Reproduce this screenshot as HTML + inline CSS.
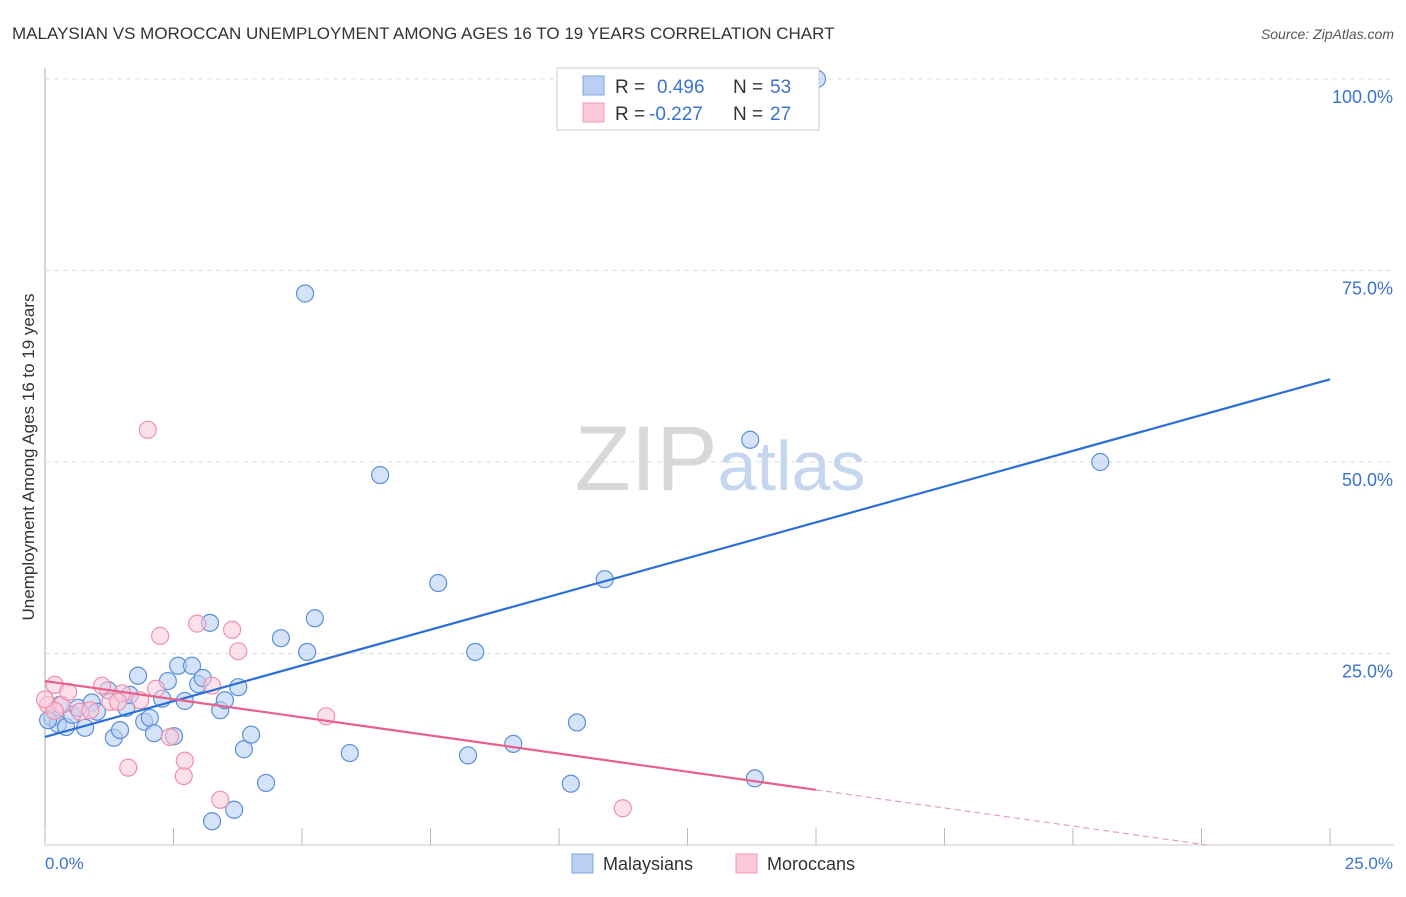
<!DOCTYPE html>
<html><head><meta charset="utf-8"><style>
body{margin:0;background:#fff;font-family:"Liberation Sans",sans-serif;}
svg text{font-family:"Liberation Sans",sans-serif;}
</style></head><body>
<svg id="chart" width="1406" height="892" xmlns="http://www.w3.org/2000/svg">
<text x="12" y="39" font-size="17" fill="#333">MALAYSIAN VS MOROCCAN UNEMPLOYMENT AMONG AGES 16 TO 19 YEARS CORRELATION CHART</text>
<text x="1394" y="39" font-size="14" fill="#555" text-anchor="end" font-style="italic">Source: ZipAtlas.com</text>
<g id="grid"></g>
<text x="720" y="490" font-size="92" text-anchor="middle" fill="#d8d8d8" font-family="Liberation Serif">ZIP<tspan fill="#c5d6ee" font-family="Liberation Sans" font-size="70">atlas</tspan></text>
<g id="points"></g>
<g id="lines"></g>
<text transform="translate(34,457) rotate(-90)" font-size="17" fill="#333" text-anchor="middle">Unemployment Among Ages 16 to 19 years</text>
<text x="45" y="869" font-size="17" fill="#3b73d0">0.0%</text>
<text x="1393" y="869" font-size="17" fill="#3b73d0" text-anchor="end">25.0%</text>
<g>
<rect x="557" y="68" width="262" height="62" fill="#fff" stroke="#ccc"/>
<rect x="583" y="76" width="21" height="19" fill="#b9d0f3" stroke="#7fa5e0"/>
<rect x="583" y="103" width="21" height="19" fill="#fcc9d8" stroke="#f09ab6"/>
<text x="615" y="93" font-size="19" fill="#333">R =</text><text x="657" y="93" font-size="19" fill="#3b73d0">0.496</text>
<text x="733" y="93" font-size="19" fill="#333">N =</text><text x="770" y="93" font-size="19" fill="#3b73d0">53</text>
<text x="615" y="120" font-size="19" fill="#333">R =</text><text x="649" y="120" font-size="19" fill="#3b73d0">-0.227</text>
<text x="733" y="120" font-size="19" fill="#333">N =</text><text x="770" y="120" font-size="19" fill="#3b73d0">27</text>
</g>
<g><rect x="572" y="854" width="21" height="19" fill="#b9d0f3" stroke="#7fa5e0"/><text x="603" y="870" font-size="18" fill="#333">Malaysians</text></g>
<g><rect x="736" y="854" width="21" height="19" fill="#fcc9d8" stroke="#f09ab6"/><text x="767" y="870" font-size="18" fill="#333">Moroccans</text></g>
</svg>
<script>
const yTicks=[25,50,75,100];
const yTickLabels=["25.0%","50.0%","75.0%","100.0%"];
const xTicks=[0,2.5,5,7.5,10,12.5,15,17.5,20,22.5,25];
const malX=[0.14,0.25,0.41,0.53,0.64,0.78,0.91,1.01,1.23,1.34,1.46,1.58,1.65,1.81,1.93,2.04,2.12,2.28,2.39,2.51,2.59,2.72,2.86,2.98,3.07,3.21,3.41,3.5,3.76,3.87,4.01,4.3,3.25,3.68,4.59,5.1,5.25,5.06,5.93,6.52,7.65,8.23,8.37,9.11,10.23,10.35,10.89,13.72,20.53,15.02,13.81,0.06,0.29];
const malY=[16.6,15.8,15.4,17.0,17.9,15.3,18.6,17.4,20.2,14.0,15.0,17.9,19.6,22.1,16.1,16.6,14.6,19.1,21.4,14.2,23.4,18.8,23.4,21.0,21.8,29.0,17.6,18.9,20.6,12.5,14.4,8.1,3.1,4.6,27.0,25.2,29.6,72.0,12.0,48.3,34.2,11.7,25.2,13.2,8.0,16.0,34.7,52.9,50.0,100,8.7,16.3,18.3];
const morX=[0.06,0.19,0.33,0.45,0.68,0.88,1.11,1.27,1.5,1.62,1.85,2.0,2.16,2.24,2.43,2.7,2.72,2.96,3.25,3.41,3.64,3.76,5.47,11.24,0.19,1.42,0.0];
const morY=[18.3,20.9,18.3,20.0,17.4,17.6,20.8,18.7,19.8,10.1,18.9,54.2,20.4,27.3,14.1,9.0,11.0,28.9,20.8,5.9,28.1,25.3,16.8,4.8,17.5,18.7,19.0];
const malTrend=[14.1,60.8];
const morTrend=[21.4,7.2];
const morTrendEnd=15;
const X=v=>45+v*51.4, Y=v=>845-v*7.66;
const NS="http://www.w3.org/2000/svg";
function mk(t,a,p){const e=document.createElementNS(NS,t);for(const k in a)e.setAttribute(k,a[k]);p.appendChild(e);return e;}
const grid=document.getElementById('grid');
const ax=mk('line',{x1:45,y1:68,x2:45,y2:845,stroke:'#aaa'},grid);


const bx=mk('line',{x1:45,y1:845,x2:1394,y2:845,stroke:'#ccc'},grid);


yTicks.forEach((t,i)=>{
 const g=mk('line',{x1:45,y1:Y(t),x2:1394,y2:Y(t),stroke:'#ddd','stroke-dasharray':'5,4'},grid);
 
 
 const tx=mk('text',{x:1393,y:Y(t)+24,'font-size':18,fill:'#3b73d0','text-anchor':'end'},grid);
 tx.textContent=yTickLabels[i];
 
 
});
xTicks.forEach(t=>{
 const l=mk('line',{x1:X(t),y1:828,x2:X(t),y2:845,stroke:'#bbb'},grid);
 
 
});
const pts=document.getElementById('points');
malX.forEach((x,i)=>{
 const c=mk('circle',{cx:X(x),cy:Y(malY[i]),r:8.5,fill:'#b9d0f3','fill-opacity':0.6,stroke:'#5b8fdb','stroke-width':1.2},pts);
 
 
});
morX.forEach((x,i)=>{
 const c=mk('circle',{cx:X(x),cy:Y(morY[i]),r:8.5,fill:'#fcc9d8','fill-opacity':0.55,stroke:'#ef90ad','stroke-width':1.2},pts);
 
 
});
const ln=document.getElementById('lines');
const b=mk('line',{x1:X(0),y1:Y(malTrend[0]),x2:X(25),y2:Y(malTrend[1]),stroke:'#2b6fd6','stroke-width':2.2},ln);


const p=mk('line',{x1:X(0),y1:Y(morTrend[0]),x2:X(morTrendEnd),y2:Y(morTrend[1]),stroke:'#e8608c','stroke-width':2.2},ln);


const slope=(morTrend[1]-morTrend[0])/morTrendEnd;
const xEnd=-morTrend[0]/slope;
const d=mk('line',{x1:X(morTrendEnd),y1:Y(morTrend[1]),x2:X(xEnd),y2:Y(0),stroke:'#e8a0b8','stroke-width':1.2,'stroke-dasharray':'6,4'},ln);


</script>
</body></html>
